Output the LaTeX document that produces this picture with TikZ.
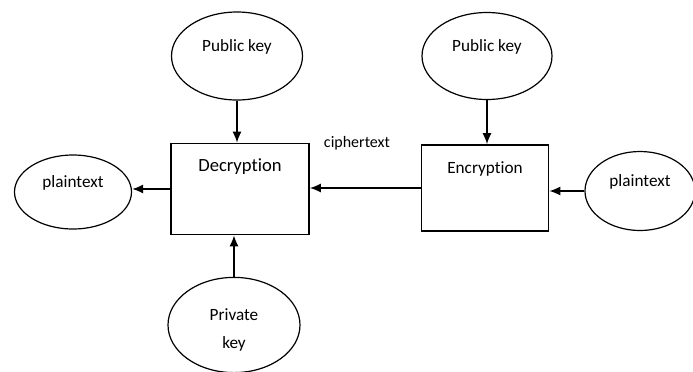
\documentclass[tikz,border=0pt]{standalone}
\usepackage{fontspec}
\setmainfont{Carlito}[Ligatures={NoCommon,NoRare,NoContextual}]
\usetikzlibrary{arrows,arrows.meta,shapes.geometric}

\begin{document}
\begin{tikzpicture}[x=0.5pt,y=-0.5pt]
\tikzset{align=center,
		font=\fontsize{8.6}{14}\selectfont}
\tikzset{keynode/.style = {shape=ellipse,draw,line width=0.6pt,text height=6pt,text depth=11pt}}
\tikzset{block/.style = {shape=rectangle,draw,line width=0.8pt,text height=6pt}}
\tikzset{edge/.style = {->,> = {Latex[length=5.5pt,width=4.5pt]},line width=0.8pt}}
\useasboundingbox (0,0) rectangle (693,371);
% vertices
\node[keynode,minimum width=65.5pt,minimum height=44pt] (pubD) at (237,56) {Public key};
\node[block,minimum width=69pt,minimum height=45.5pt,text depth=24pt,font=\fontsize{9.3}{14}\selectfont] (dec) at (240,189) {Decryption};
\node[keynode,minimum width=58.5pt,minimum height=37pt] (plainL) at (73,192) {plaintext};
\node[keynode,minimum width=66pt,minimum height=45pt,text depth=2pt,text height=25pt] (priv) at (234,325) {Private\\key};
\node[keynode,minimum width=65pt,minimum height=43.5pt] (pubE) at (487,56) {Public key};
\node[block,minimum width=63.5pt,minimum height=43pt,text depth=21pt] (enc) at (485,188) {Encryption};
\node[keynode,minimum width=55pt,minimum height=39.5pt] (plainR) at (640,191) {plaintext};

\node[font=\fontsize{8}{10}\selectfont] (ct) at (357,143) {ciphertext};

%edges
\draw[edge] (pubD.south) to (pubD.south |- dec.north);
\draw[edge] (priv.north) to (priv.north |- dec.south);
\draw[edge] (dec.west) to (dec.west -| plainL.east);

\draw[edge] (pubE.south) to (pubE.south |- enc.north);
\draw[edge] (plainR.west) to (plainR.west -| enc.east);
\draw[edge] (enc.west) to (enc.west -| dec.east);
\end{tikzpicture}
\end{document}
